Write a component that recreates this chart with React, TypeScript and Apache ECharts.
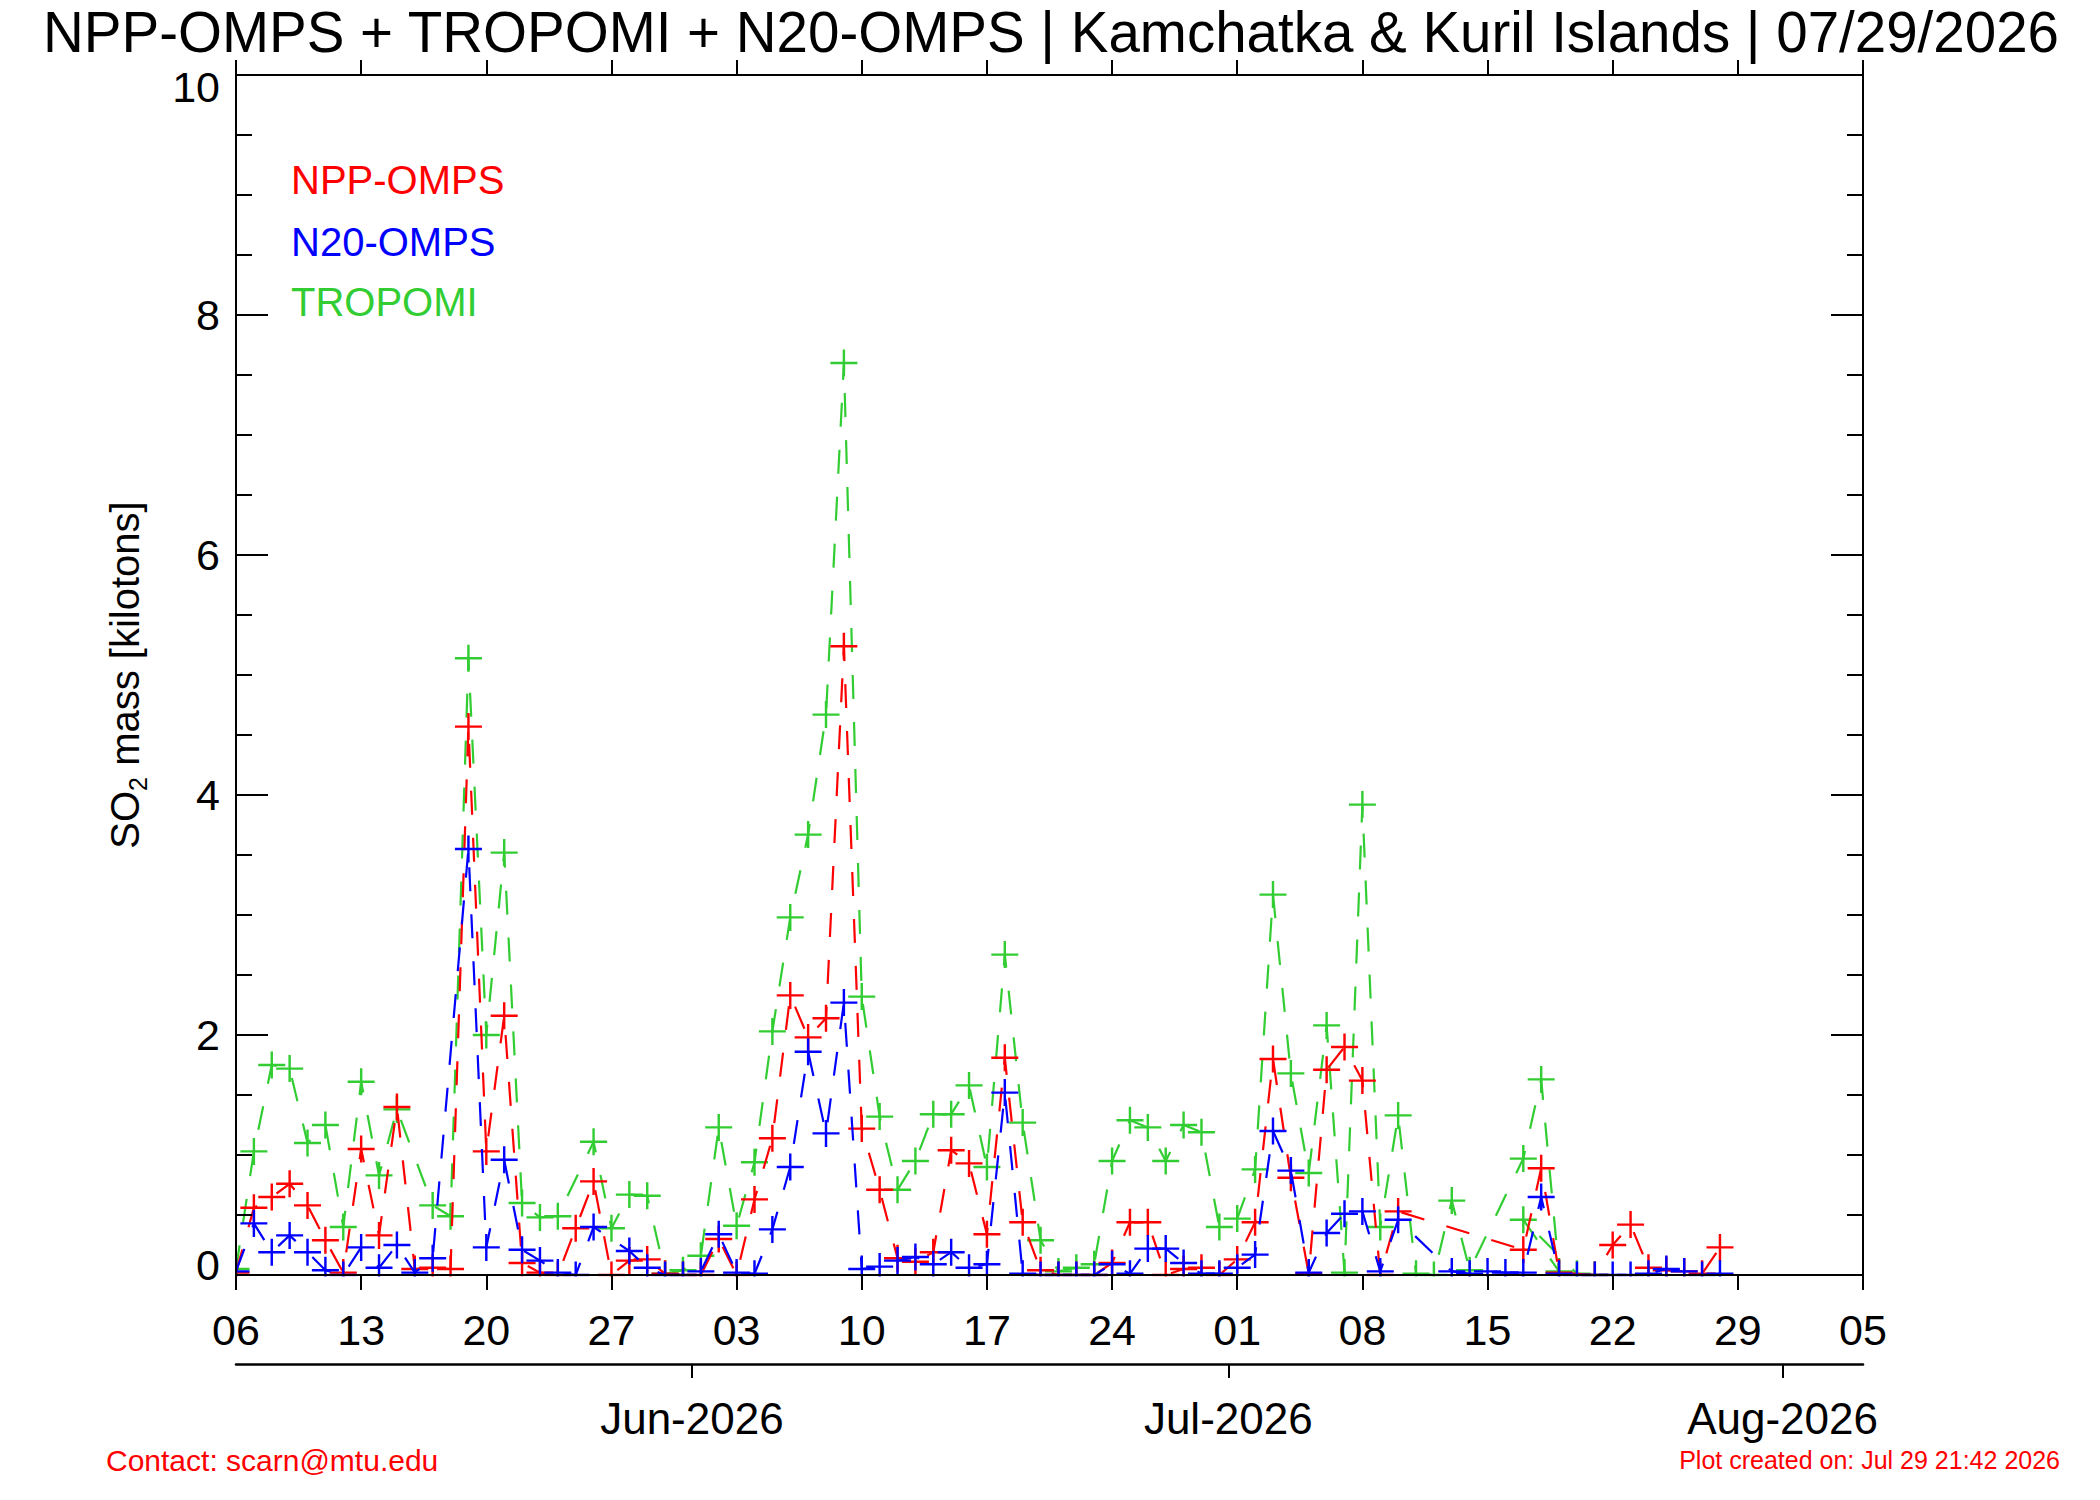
import React, { useEffect, useRef } from "react";
import * as echarts from "echarts";

// ---- Data (day offsets from 06 May 2026) ----
const nppDays = [0,1,2,3,4,5,6,7,8,9,10,11,12,13,14,15,16,17,18,19,20,21,22,23,24,25,26,27,28,29,30,31,32,33,34,35,36,37,38,39,40,41,42,43,44,45,46,47,48,49,50,51,52,53,54,55,56,57,58,59,60,61,62,63,64,65,72,73,74,76,77,78,79,80,81,82,83];
const nppValues = [0.02,0.56,0.65,0.76,0.58,0.29,0.02,1.05,0.33,1.40,0.05,0.06,0.05,4.57,1.03,2.16,0.10,0.02,0.0,0.39,0.78,0.0,0.12,0.13,0.01,0.0,0.0,0.30,0.0,0.63,1.14,2.33,1.98,2.14,5.24,1.22,0.71,0.14,0.11,0.19,1.04,0.93,0.34,1.81,0.44,0.04,0.0,0.0,0.0,0.10,0.44,0.44,0.0,0.05,0.06,0.0,0.13,0.44,1.80,0.81,0.01,1.71,1.90,1.62,0.0,0.53,0.21,0.89,0.02,0.0,0.25,0.42,0.06,0.04,0.03,0.01,0.23];

const n20Days = [0,1,2,3,4,5,6,7,8,9,10,11,13,14,15,16,17,18,19,20,22,23,24,25,26,27,28,29,30,31,32,33,34,35,36,37,38,39,40,41,42,43,44,45,46,47,48,49,50,51,52,53,54,55,56,57,58,59,60,61,62,63,64,65,68,69,70,71,72,73,74,75,76,77,78,79,80,81,82,83];
const n20Values = [0.03,0.43,0.19,0.33,0.19,0.04,0.0,0.23,0.06,0.25,0.02,0.14,3.55,0.23,0.96,0.21,0.12,0.02,0.0,0.40,0.20,0.06,0.0,0.0,0.03,0.34,0.02,0.01,0.38,0.90,1.86,1.18,2.27,0.05,0.07,0.12,0.15,0.09,0.19,0.06,0.09,1.52,0.01,0.0,0.0,0.0,0.0,0.09,0.01,0.22,0.22,0.10,0.01,0.01,0.06,0.17,1.20,0.87,0.02,0.35,0.51,0.53,0.03,0.46,0.03,0.01,0.03,0.02,0.02,0.65,0.01,0.0,0.0,0.0,0.0,0.01,0.05,0.03,0.0,0.01];

const tropomiDays = [0,1,2,3,4,5,6,7,8,9,11,12,13,14,15,16,17,18,20,21,22,23,24,25,26,27,28,29,30,31,32,33,34,35,36,37,38,39,40,41,42,43,44,45,46,47,48,49,50,51,52,53,54,55,56,57,58,59,60,61,62,63,64,65,66,67,68,69,72,73,74,72,75,76];
const tropomiValues = [0.05,1.03,1.75,1.72,1.10,1.25,0.40,1.61,0.83,1.38,0.58,0.49,5.14,2.00,3.52,0.60,0.48,0.49,1.11,0.39,0.67,0.66,0.01,0.04,0.16,1.23,0.41,0.94,2.03,2.98,3.67,4.67,7.60,2.32,1.32,0.71,0.95,1.34,1.34,1.58,0.90,2.67,1.27,0.29,0.03,0.06,0.09,0.95,1.29,1.23,0.95,1.25,1.19,0.40,0.47,0.88,3.17,1.68,0.85,2.08,0.02,3.92,0.40,1.33,0.01,0.0,0.62,0.04,0.97,1.63,0.03,0.46,0.01,0.0];

const yTicks = [0, 2, 4, 6, 8, 10];
const monthTickDays = [25.5, 55.5, 86.5];
const monthLabels = ["Jun-2026", "Jul-2026", "Aug-2026"];
const legendNames = ["NPP-OMPS", "N20-OMPS", "TROPOMI"];

const RED = "#ff0000";
const BLUE = "#0000ff";
const GREEN = "#32cd32";
const FONT = "Liberation Sans";
const START = Date.UTC(2026, 4, 6);

const CROSS =
  "path://M-1,-0.09L1,-0.09L1,0.09L-1,0.09Z M-0.09,-1L0.09,-1L0.09,1L-0.09,1Z";

function makeSeries(name: string, color: string, days: number[], vals: number[], z: number) {
  return {
    type: "line",
    name,
    data: days.map((d, i) => [d, vals[i]]),
    symbol: CROSS,
    symbolSize: 27,
    symbolKeepAspect: true,
    showSymbol: true,
    showAllSymbol: true,
    lineStyle: { color, width: 2.2, type: [24, 23] },
    itemStyle: { color },
    emphasis: { disabled: true },
    silent: true,
    z,
  };
}

export default function App() {
  const ref = useRef<HTMLDivElement>(null);
  useEffect(() => {
    document.body.style.margin = "0";
    const chart = echarts.init(ref.current!, null, { renderer: "svg" });
    const axisLine = { show: true, onZero: false, lineStyle: { color: "#000", width: 2 } };
    const option: any = {
      animation: false,
      backgroundColor: "#fff",
      grid: { left: 236, right: 237, top: 75, bottom: 225 },
      xAxis: [
        {
          type: "value",
          position: "bottom",
          min: 0,
          max: 91,
          interval: 7,
          z: 10,
          axisLine,
          axisTick: { show: true, inside: false, length: 15, lineStyle: { color: "#000", width: 2 } },
          axisLabel: {
            fontSize: 43,
            fontFamily: FONT,
            color: "#000",
            margin: 33,
            formatter: (v: number) => {
              const d = new Date(START + v * 86400000);
              return String(d.getUTCDate()).padStart(2, "0");
            },
          },
          splitLine: { show: false },
        },
        {
          type: "value",
          position: "top",
          min: 0,
          max: 91,
          interval: 7,
          z: 10,
          axisLine,
          axisTick: { show: true, inside: false, length: 15, lineStyle: { color: "#000", width: 2 } },
          axisLabel: { show: false },
          splitLine: { show: false },
        },
        {
          type: "value",
          position: "bottom",
          offset: 89,
          min: 0,
          max: 91,
          interval: 7,
          z: 10,
          axisLine: { show: true, onZero: false, lineStyle: { color: "#000", width: 2.5 } },
          axisTick: {
            show: true,
            inside: false,
            length: 14,
            customValues: monthTickDays,
            lineStyle: { color: "#000", width: 2 },
          },
          axisLabel: {
            show: true,
            customValues: monthTickDays,
            fontSize: 44,
            fontFamily: FONT,
            color: "#000",
            margin: 32,
            formatter: (v: number) => {
              const i = monthTickDays.indexOf(v);
              return i >= 0 ? monthLabels[i] : "";
            },
          },
          splitLine: { show: false },
        },
      ],
      yAxis: [
        {
          type: "value",
          position: "left",
          min: yTicks[0],
          max: yTicks[yTicks.length - 1],
          interval: 2,
          z: 10,
          axisLine,
          axisTick: { show: true, inside: true, length: 32, lineStyle: { color: "#000", width: 2 } },
          minorTick: { show: true, splitNumber: 4, length: 16, lineStyle: { color: "#000", width: 2 } },
          axisLabel: {
            fontSize: 43,
            fontFamily: FONT,
            color: "#000",
            margin: 16,
            formatter: (v: number) => (v === 10 ? "{t|10}" : v === 0 ? "{b|0}" : String(v)),
            rich: {
              t: { fontSize: 43, fontFamily: FONT, color: "#000", padding: [24, 0, 0, 0] },
              b: { fontSize: 43, fontFamily: FONT, color: "#000", padding: [0, 0, 20, 0] },
            },
          },
          splitLine: { show: false },
          name: "{a|SO}{s|2}{a| mass [kilotons]}",
          nameLocation: "middle",
          nameGap: 86,
          nameTextStyle: {
            rich: {
              a: { fontSize: 40, fontFamily: FONT, color: "#000", lineHeight: 50, verticalAlign: "middle" },
              s: { fontSize: 25, fontFamily: FONT, color: "#000", lineHeight: 28, verticalAlign: "bottom" },
            },
          },
        },
        {
          type: "value",
          position: "right",
          min: yTicks[0],
          max: yTicks[yTicks.length - 1],
          interval: 2,
          z: 10,
          axisLine,
          axisTick: { show: true, inside: true, length: 32, lineStyle: { color: "#000", width: 2 } },
          minorTick: { show: true, splitNumber: 4, length: 16, lineStyle: { color: "#000", width: 2 } },
          axisLabel: { show: false },
          splitLine: { show: false },
        },
      ],
      graphic: [
        {
          type: "rect",
          z: 5,
          silent: true,
          shape: { x: 200, y: 1276.5, width: 1700, height: 24 },
          style: { fill: "#fff" },
        },
        {
          type: "rect",
          z: 5,
          silent: true,
          shape: { x: 222, y: 60, width: 13, height: 1240 },
          style: { fill: "#fff" },
        },
        {
          type: "text",
          x: 1051,
          y: 32,
          z: 20,
          style: {
            text: "NPP-OMPS + TROPOMI + N20-OMPS | Kamchatka & Kuril Islands | 07/29/2026",
            fontSize: 56.5,
            fontFamily: FONT,
            fill: "#000",
            align: "center",
            verticalAlign: "middle",
            textAlign: "center",
            textVerticalAlign: "middle",
          },
        },
        ...legendNames.map((n, i) => ({
          type: "text",
          x: 291,
          y: [180, 242, 302][i],
          z: 20,
          style: {
            text: n,
            fontSize: 40,
            fontFamily: FONT,
            fill: [RED, BLUE, GREEN][i],
            align: "left",
            verticalAlign: "middle",
            textAlign: "left",
            textVerticalAlign: "middle",
          },
        })),
        {
          type: "text",
          x: 106,
          y: 1460,
          z: 20,
          style: {
            text: "Contact: scarn@mtu.edu",
            fontSize: 30,
            fontFamily: FONT,
            fill: RED,
            align: "left",
            verticalAlign: "middle",
            textAlign: "left",
            textVerticalAlign: "middle",
          },
        },
        {
          type: "text",
          x: 2060,
          y: 1460,
          z: 20,
          style: {
            text: "Plot created on: Jul 29 21:42 2026",
            fontSize: 25,
            fontFamily: FONT,
            fill: RED,
            align: "right",
            verticalAlign: "middle",
            textAlign: "right",
            textVerticalAlign: "middle",
          },
        },
      ],
      series: [
        makeSeries("TROPOMI", GREEN, tropomiDays, tropomiValues, 2),
        makeSeries("NPP-OMPS", RED, nppDays, nppValues, 3),
        makeSeries("N20-OMPS", BLUE, n20Days, n20Values, 4),
      ],
    };
    chart.setOption(option);
    return () => chart.dispose();
  }, []);
  return <div ref={ref} style={{ width: 2100, height: 1500 }} />;
}
